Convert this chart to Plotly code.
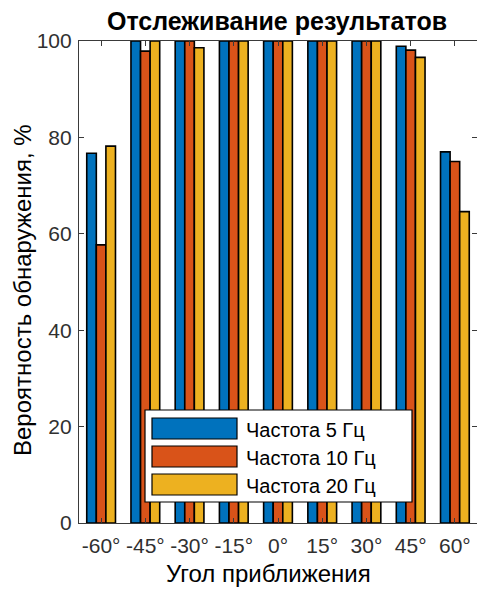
import plotly.graph_objects as go

# Approach angles and detection probability (%) per sampling frequency
angles = ["-60°", "-45°", "-30°", "-15°", "0°", "15°", "30°", "45°", "60°"]
freq_5hz = [76.7, 100, 100, 100, 100, 100, 100, 98.9, 77.0]
freq_10hz = [57.7, 97.9, 100, 100, 100, 100, 100, 98.1, 75.0]
freq_20hz = [78.2, 100, 98.6, 100, 100, 100, 100, 96.6, 64.6]
series_names = ["Частота 5 Гц", "Частота 10 Гц", "Частота 20 Гц"]
series_colors = ["#0072BD", "#D95319", "#EDB120"]
y_ticks = [0, 20, 40, 60, 80, 100]

FONT = "Arial, 'Liberation Sans', sans-serif"
AXIS_COLOR = "#3a3a3a"
TICK_COLOR = "#303030"

fig = go.Figure()
for name, vals, col in zip(series_names, [freq_5hz, freq_10hz, freq_20hz], series_colors):
    fig.add_trace(go.Bar(
        x=angles, y=vals, name=name,
        marker=dict(color=col, line=dict(color="black", width=1.6)),
        showlegend=False,
    ))

W, H = 477, 589
ml, mr, mt, mb = 79, 0, 41, 66
pw, ph = W - ml - mr, H - mt - mb


def px(x):
    return (x - ml) / pw


def py(y):
    return (H - mb - y) / ph


# Legend drawn as a boxed key with wide colour swatches
shapes = [dict(type="rect", xref="paper", yref="paper",
               x0=px(145), x1=px(412), y0=py(502), y1=py(410),
               fillcolor="white", line=dict(color="black", width=1.2), layer="above")]
annotations = []
rows = [(418, 439), (446, 467), (474, 495)]
for (top, bot), name, col in zip(rows, series_names, series_colors):
    shapes.append(dict(type="rect", xref="paper", yref="paper",
                       x0=px(152), x1=px(237), y0=py(bot), y1=py(top),
                       fillcolor=col, line=dict(color="black", width=1.2), layer="above"))
    annotations.append(dict(xref="paper", yref="paper", x=px(244), y=py((top + bot) / 2 + 1),
                            text=name, showarrow=False, xanchor="left", yanchor="middle",
                            font=dict(family=FONT, size=20, color="black")))

# Axis titles
annotations.append(dict(xref="paper", yref="paper", x=px(268), y=py(588),
                        text="Угол приближения", showarrow=False,
                        xanchor="center", yanchor="bottom", borderpad=0,
                        font=dict(family=FONT, size=24, color="black")))
annotations.append(dict(xref="paper", yref="paper", x=px(22), y=py(290),
                        text="Вероятность обнаружения, %", showarrow=False, textangle=-90,
                        xanchor="center", yanchor="middle",
                        font=dict(family=FONT, size=24, color="black")))

fig.update_layout(
    width=W, height=H,
    margin=dict(l=ml, r=mr, t=mt, b=mb),
    paper_bgcolor="white", plot_bgcolor="white",
    barmode="group", bargap=0.35, bargroupgap=0,
    font=dict(family=FONT, color=TICK_COLOR),
    title=dict(text="<b>Отслеживание результатов</b>", xref="paper", x=px(277), xanchor="center",
               y=1 - 21 / H, yanchor="middle",
               font=dict(family=FONT, size=25, color="black")),
    shapes=shapes, annotations=annotations,
)
fig.update_xaxes(
    range=[-0.5, 8.5], showline=True, linecolor=AXIS_COLOR, linewidth=1.2, mirror="ticks",
    ticks="inside", ticklen=5, tickcolor=AXIS_COLOR, showgrid=False,
    tickfont=dict(family=FONT, size=21, color=TICK_COLOR), ticklabelstandoff=4,
)
fig.update_yaxes(
    range=[0, 100], tickvals=y_ticks, showline=True, linecolor=AXIS_COLOR, linewidth=1.2,
    mirror="ticks", ticks="inside", ticklen=5, tickcolor=AXIS_COLOR, showgrid=False, zeroline=False,
    tickfont=dict(family=FONT, size=21, color=TICK_COLOR), ticklabelstandoff=2,
)

fig.write_html("out.html")
